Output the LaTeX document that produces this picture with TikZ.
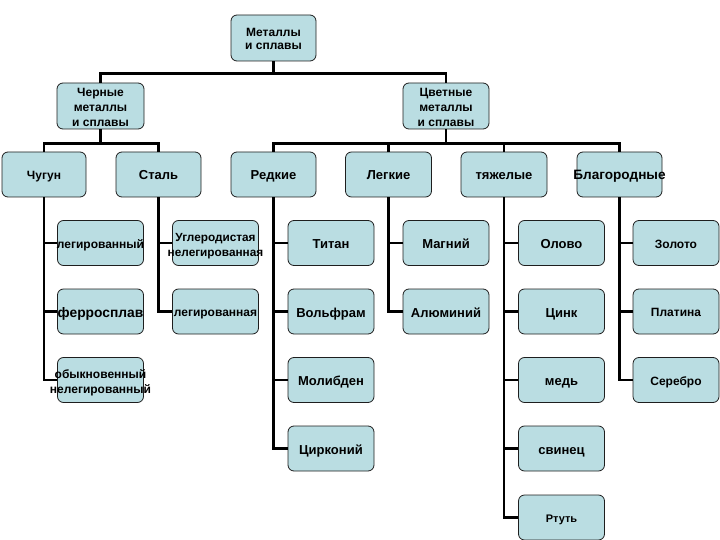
\documentclass[tikz,border=0pt]{standalone}
\usepackage{fontspec}
\setmainfont{Liberation Sans}
\definecolor{boxc}{RGB}{186,221,226}
\definecolor{edgec}{RGB}{30,30,30}
\newcommand\zw[1]{\makebox[0pt]{\strut\smash{\raisebox{-2.5pt}{#1}}}}
\newcommand\fs[2]{\bfseries\fontsize{#1}{#2}\selectfont}
\tikzset{
  bx/.style={draw=edgec, line width=0.8pt, rounded corners=6pt, fill=boxc,
    minimum width=86pt, minimum height=45pt, inner sep=0pt, align=center,
    font=\fs{13}{15}},
  topbox/.style={bx, font=\fs{12}{13.5}, minimum height=46pt},
  midbox/.style={bx, font=\fs{12}{15}, minimum height=46pt},
  lvbox/.style={bx, font=\fs{13}{15}},
  conn/.style={line width=2.5pt, black},
}
\begin{document}
\begin{tikzpicture}[x=1pt,y=-1pt]
\useasboundingbox (0,0) rectangle (720,540);
% level 0
\node[topbox, minimum width=85pt] (root) at (273.5,38) {\zw{Металлы}\\\zw{и сплавы}};
% level 1
\node[midbox, minimum width=87pt] (cher) at (100.5,106) {\zw{Черные}\\\zw{металлы}\\\zw{и сплавы}};
\node[midbox] (cvet) at (446,106) {\zw{Цветные}\\\zw{металлы}\\\zw{и сплавы}};
% level 2
\node[lvbox, minimum width=84pt, font=\fs{12}{14}] (chug) at (44,174.5) {\zw{Чугун}};
\node[lvbox, minimum width=85pt] (stal) at (158.5,174.5) {\zw{Сталь}};
\node[lvbox, minimum width=85pt] (redk) at (273.5,174.5) {\zw{Редкие}};
\node[lvbox, minimum width=86pt] (legk) at (388.5,174.5) {\zw{Легкие}};
\node[lvbox, minimum width=86pt] (tyazh) at (504,174.5) {\zw{тяжелые}};
\node[lvbox, minimum width=85pt, font=\fs{13.6}{15}] (blag) at (619.5,174.5) {\zw{Благородные}};
% leaves: Чугун
\node[bx, font=\fs{12}{14}] (c1) at (100.5,243) {\zw{легированный}};
\node[bx, font=\fs{13.8}{15}] (c2) at (100.5,311.5) {\zw{ферросплав}};
\node[bx, font=\fs{12}{15}] (c3) at (100.5,380) {\zw{обыкновенный}\\\zw{нелегированный}};
% Сталь
\node[bx, font=\fs{11.8}{15}] (s1) at (215.5,243) {\zw{Углеродистая}\\\zw{нелегированная}};
\node[bx, font=\fs{12}{14}] (s2) at (215.5,311.5) {\zw{легированная}};
% Редкие
\node[bx] (r1) at (331,243) {\zw{Титан}};
\node[bx] (r2) at (331,311.5) {\zw{Вольфрам}};
\node[bx] (r3) at (331,380) {\zw{Молибден}};
\node[bx] (r4) at (331,448.5) {\zw{Цирконий}};
% Легкие
\node[bx] (l1) at (446,243) {\zw{Магний}};
\node[bx] (l2) at (446,311.5) {\zw{Алюминий}};
% тяжелые
\node[bx] (t1) at (561.5,243) {\zw{Олово}};
\node[bx] (t2) at (561.5,311.5) {\zw{Цинк}};
\node[bx] (t3) at (561.5,380) {\zw{медь}};
\node[bx] (t4) at (561.5,448.5) {\zw{свинец}};
\node[bx, font=\fs{11}{12}] (t5) at (561.5,517.5) {\zw{Ртуть}};
% Благородные
\node[bx, font=\fs{12}{13}] (b1) at (676,243) {\zw{Золото}};
\node[bx, font=\fs{12}{13}] (b2) at (676,311.5) {\zw{Платина}};
\node[bx, font=\fs{12}{13}] (b3) at (676,380) {\zw{Серебро}};
% connectors
\draw[conn] (root.south) -- ++(0,12) -| (cher.north);
\draw[conn] (root.south) -- ++(0,12) -| (cvet.north);
\foreach \c in {chug,stal} \draw[conn] (cher.south) -- ++(0,14) -| (\c.north);
\foreach \c in {redk,legk,tyazh,blag} \draw[conn] (cvet.south) -- ++(0,14) -| (\c.north);
\foreach \c in {c1,c2,c3} \draw[conn] (chug.south) |- (\c.west);
\foreach \c in {s1,s2} \draw[conn] (stal.south) |- (\c.west);
\foreach \c in {r1,r2,r3,r4} \draw[conn] (redk.south) |- (\c.west);
\foreach \c in {l1,l2} \draw[conn] (legk.south) |- (\c.west);
\foreach \c in {t1,t2,t3,t4,t5} \draw[conn] (tyazh.south) |- (\c.west);
\foreach \c in {b1,b2,b3} \draw[conn] (blag.south) |- (\c.west);
\end{tikzpicture}
\end{document}
